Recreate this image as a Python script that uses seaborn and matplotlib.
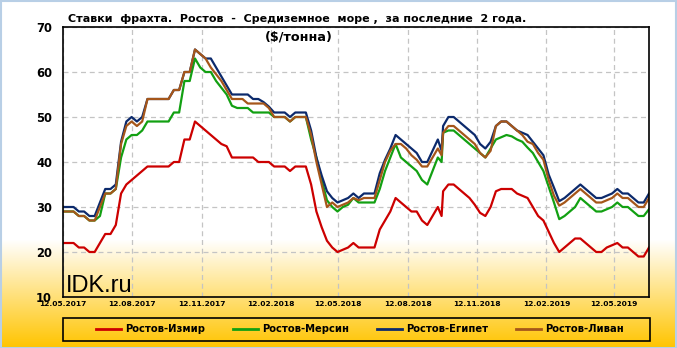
import matplotlib
matplotlib.use('Agg')
import matplotlib.pyplot as plt
import numpy as np
import pandas as pd
import seaborn as sns
from matplotlib.patches import Rectangle

# ---------------- data ----------------
series_names = ["Ростов-Измир", "Ростов-Мерсин", "Ростов-Египет", "Ростов-Ливан"]

izmir = [22, 22, 22, 21, 21, 20, 20, 22, 24, 24, 26, 33, 35, 36, 37, 38, 39,
         39, 39, 39, 39, 40, 40, 45, 45, 49, 48, 47, 46, 45, 44, 43.5, 41, 41, 41, 41, 41,
         40, 40, 40, 39, 39, 39, 38, 39, 39, 39, 35, 29, 25.5, 22.5, 21, 20, 20.5, 21,
         22, 21, 21, 21, 21, 25, 27, 29, 32, 31, 30, 29, 29, 27, 26, 28, 30,
         28,
         33.5, 35, 35, 34, 33, 32, 30.5, 28.7, 28, 30, 33.5, 34, 34, 34, 33, 32.5, 32, 30, 28,
         27, 24.5, 22, 20, 21, 22, 23, 23, 22, 21, 20, 20, 21, 21.5, 22, 21, 21, 20, 19, 19, 21]

mersin = [29, 29, 29, 28, 28, 27, 27, 28, 33, 33, 34, 41, 45, 46, 46, 47, 49,
          49, 49, 49, 49, 51, 51, 58, 58, 63, 61, 60, 60, 58, 56.5, 55, 52.5, 52, 52, 52, 51,
          51, 51, 51, 50, 50, 50, 49, 50, 50, 50, 45, 41, 36, 31.5, 30, 29, 30, 30.5,
          32, 31, 31, 31, 31, 34, 38, 41, 44, 41, 40, 39, 38, 36, 35, 38, 41,
          40,
          46.5, 47, 47, 46, 45, 44, 43, 42, 41, 43, 45, 45.5, 46, 45.7, 45, 44.5, 43.2, 42, 40,
          38, 34.5, 31, 27.3, 28, 29, 30, 32, 31, 30, 29, 29, 29.5, 30, 31, 30, 30, 29, 28, 28, 29.5]

egypt = [30, 30, 30, 29, 29, 28, 28, 31, 34, 34, 35, 44.5, 49, 50, 49, 50, 54,
         54, 54, 54, 54, 56, 56, 60, 60, 65, 64, 63, 63, 61, 59, 57, 55, 55, 55, 55, 54,
         54, 53.3, 52.3, 51, 51, 51, 50, 51, 51, 51, 47, 41, 37, 33.5, 32, 31, 31.5, 32,
         33, 32, 33, 33, 33, 37.5, 40.5, 43, 46, 45, 44, 43, 42, 40, 40, 42.5, 45,
         42.5,
         48, 50, 50, 49, 48, 47, 46, 44, 43, 44.5, 48, 49, 49, 48, 47, 46.5, 46, 44.5, 43,
         41.5, 37.2, 34.3, 31.3, 32, 33, 34, 35, 34, 33, 32, 32, 32.5, 33, 34, 33, 33, 32, 31, 31, 33]

livan = [29, 29, 29, 28, 28, 27, 27, 30, 33, 33, 34, 44, 48, 49, 48, 49, 54,
         54, 54, 54, 54, 56, 56, 60, 60, 65, 64, 63, 61, 59.5, 58, 56, 54, 54, 54, 53, 53,
         53, 53, 52, 50, 50, 50, 49, 50, 50, 50, 46, 40, 35, 30, 31, 30, 30.5, 31,
         32, 31.5, 32, 32, 32, 36, 40, 42.5, 44, 44, 43, 41.5, 40.5, 39, 39, 41, 43,
         41.5,
         46.5, 48, 48, 47, 46, 45, 44, 42, 41, 42.5, 48, 49, 49, 48, 47, 46, 44.5, 44, 42,
         40.5, 36, 32.5, 30.3, 31, 32, 33, 34, 33, 32, 31, 31, 31.5, 32, 33, 32, 32, 31, 30, 30, 32]

dates = (list(pd.date_range('2017-05-12', periods=72, freq='7D'))
         + [pd.Timestamp('2018-09-26')]
         + list(pd.date_range('2018-09-28', periods=40, freq='7D')))

tick_dates = ['2017-05-12', '2017-08-12', '2017-11-12', '2018-02-12', '2018-05-12',
              '2018-08-12', '2018-11-12', '2019-02-12', '2019-05-12']
tick_labels = ['12.05.2017', '12.08.2017', '12.11.2017', '12.02.2018', '12.05.2018',
               '12.08.2018', '12.11.2018', '12.02.2019', '12.05.2019']
y_ticks = [10, 20, 30, 40, 50, 60, 70]

title_line1 = "Ставки  фрахта.  Ростов  -  Средиземное  море ,  за последние  2 года."
title_line2 = "($/тонна)"
watermark = "IDK.ru"

colors = {"Ростов-Измир": "#cc0000", "Ростов-Мерсин": "#12a012",
          "Ростов-Египет": "#0c2a6c", "Ростов-Ливан": "#a5561a"}

# ---------------- frame ----------------
rows = []
for name, vals in zip(series_names, [izmir, mersin, egypt, livan]):
    for d, v in zip(dates, vals):
        rows.append((d, v, name))
df = pd.DataFrame(rows, columns=["date", "value", "series"])

plt.rcParams['font.family'] = ['DejaVu Sans']

W, H = 677, 348
fig = plt.figure(figsize=(W / 100, H / 100), dpi=100)

# background gradient
bg = fig.add_axes([0, 0, 1, 1], zorder=-10)
yy = np.linspace(0, 1, H)  # 0 = top
start = 240 / H
t = np.clip((yy - start) / (1 - start), 0, 1)
top = np.array([1.0, 1.0, 1.0])
bot = np.array([1.0, 0.77, 0.0])
grad = top[None, :] * (1 - t[:, None]) + bot[None, :] * t[:, None]
img = np.repeat(grad[:, None, :], 4, axis=1)
bg.imshow(img, aspect='auto', extent=[0, 1, 0, 1])
bg.set_xlim(0, 1); bg.set_ylim(0, 1)
bg.axis('off')
fig.patches.append(Rectangle((0.5 / W, 0.5 / H), 1 - 1.5 / W, 1 - 1.5 / H, transform=fig.transFigure,
                             fill=False, edgecolor='#b8cfe6', linewidth=1.5, zorder=5))

ax = fig.add_axes([63 / W, 1 - 297 / H, (649 - 63) / W, (297 - 27) / H])
ax.set_facecolor('none')

sns.lineplot(data=df, x="date", y="value", hue="series", hue_order=series_names,
             palette=colors, linewidth=1.6, estimator=None, sort=False, ax=ax)

handles, labels = ax.get_legend_handles_labels()
if ax.get_legend() is not None:
    ax.get_legend().remove()

ax.set_xlim(dates[0], dates[-1])
ax.set_ylim(10, 70)
ax.set_yticks(y_ticks)
ax.set_yticklabels([str(v) for v in y_ticks], fontsize=8.3, fontweight='bold')
ax.set_xticks(pd.to_datetime(tick_dates))
ax.set_xticklabels(tick_labels, fontsize=5.4, fontweight='bold')
ax.tick_params(axis='y', length=0, pad=8)
ax.tick_params(axis='x', length=0, pad=3)
ax.set_xlabel('')
ax.set_ylabel('')
ax.grid(True, color='#c4c4c4', linestyle=(0, (4, 3)), linewidth=0.9)
ax.set_axisbelow(True)
for s in ax.spines.values():
    s.set_color('black')
    s.set_linewidth(1.2)

fig.text(68 / W, 1 - 19.5 / H, title_line1, fontsize=8.0, fontweight='bold',
         ha='left', va='center')
fig.text(299 / W, 1 - 36.5 / H, title_line2, fontsize=9.2, fontweight='bold',
         ha='center', va='center')
fig.text(66 / W, 1 - 291.5 / H, watermark, fontsize=17, family='Liberation Sans',
         ha='left', va='baseline')

# legend frame
fig.patches.append(Rectangle((63 / W, 1 - 341 / H), (650 - 63) / W, (341 - 318) / H,
                             transform=fig.transFigure, fill=False, edgecolor='black',
                             linewidth=1.2, zorder=6))
leg = fig.legend(handles, labels, loc='center', ncol=4,
                 bbox_to_anchor=(360 / W, 1 - 329.5 / H),
                 frameon=False, prop={'weight': 'bold', 'size': 7.2},
                 handlelength=2.5, handletextpad=0.4, columnspacing=2.8,
                 borderaxespad=0, borderpad=0)
for h in leg.get_lines():
    h.set_linewidth(2.0)

fig.savefig('out.png', dpi=100)
